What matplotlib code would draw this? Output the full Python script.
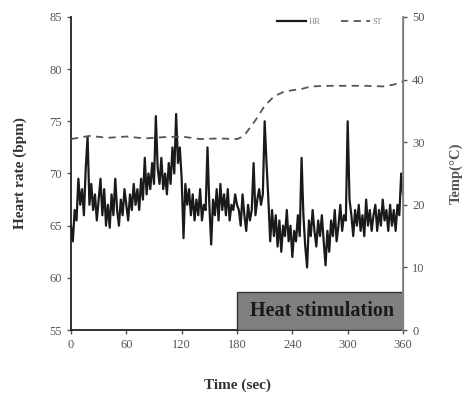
import matplotlib
matplotlib.use("Agg")
import matplotlib.pyplot as plt
from matplotlib.patches import Rectangle

# ── data ────────────────────────────────────────────────────────────────────
hr_time = list(range(0, 361, 2))
hr_bpm = [
    65.0, 63.5, 66.5, 65.5, 69.5, 67.0, 68.5, 66.0, 70.5, 73.5,
    67.0, 69.0, 66.5, 68.0, 65.5, 67.5, 69.5, 66.0, 68.5, 65.0,
    67.0, 64.8, 68.0, 66.0, 69.5, 66.5, 65.0, 67.5, 66.0, 68.5,
    67.0, 65.5, 68.0, 66.5, 69.0, 67.0, 68.5, 66.5, 69.5, 67.5,
    71.5, 68.0, 70.0, 68.5, 71.0, 69.0, 75.5, 70.5, 69.0, 71.5,
    68.5, 70.0, 68.0, 71.0, 69.0, 72.5, 70.0, 75.7, 71.0, 72.5,
    69.5, 63.8, 69.0, 67.0, 68.5, 66.0, 68.0, 65.5, 67.5, 66.0,
    68.5, 65.5, 67.0, 66.5, 72.5, 67.0, 63.2, 67.5, 66.0, 68.5,
    65.5, 69.0, 66.5, 68.0, 66.0, 68.5, 65.5, 67.0, 66.5, 68.0,
    67.0, 66.5, 65.0, 68.0, 66.0, 64.5, 67.0, 65.5, 66.5, 71.0,
    66.0, 67.5, 68.5, 67.0, 68.0, 75.0, 71.0, 67.5, 63.5, 66.5,
    64.0, 66.0, 63.0, 65.5, 62.5, 65.0, 64.0, 66.5, 63.5, 65.0,
    62.0, 64.5, 63.5, 66.0, 64.0, 71.5, 66.0, 63.0, 61.0, 65.5,
    64.0, 66.5, 64.5, 63.0, 65.5, 64.0, 66.0, 63.5, 61.2, 64.5,
    62.5, 65.5, 64.0, 66.5, 63.5, 65.0, 67.0, 64.5, 66.0, 65.5,
    75.0, 67.5, 66.0, 64.0, 66.5, 65.0, 67.0, 64.5, 66.0, 64.0,
    67.5, 65.0, 66.5, 64.5, 66.0, 67.0, 64.5, 66.5, 65.0, 67.5,
    65.5, 66.5, 64.5, 67.0, 65.0, 66.5, 64.5, 67.0, 66.0, 70.0,
    68.0,
]

st_time = [0, 20, 40, 60, 80, 100, 120, 140, 160, 180, 185, 190, 200, 210,
           220, 230, 240, 250, 260, 280, 300, 320, 340, 350, 360]
st_temp = [30.5, 31.0, 30.7, 30.9, 30.6, 30.8, 30.9, 30.5, 30.6, 30.5, 30.8,
           31.5, 33.5, 35.8, 37.3, 38.0, 38.3, 38.5, 38.9, 39.0, 39.0, 39.0,
           38.9, 39.2, 39.7]

hr_ticks = [55, 60, 65, 70, 75, 80, 85]
temp_ticks = [0, 10, 20, 30, 40, 50]
time_ticks = [0, 60, 120, 180, 240, 300, 360]

stim_start, stim_end, stim_height = 180, 360, 6

# ── figure ─────────────────────────────────────────────────────────────────
plt.rcParams["font.family"] = ["Liberation Serif", "DejaVu Serif"]

fig = plt.figure(figsize=(4.67, 4.03), dpi=100)
ax = fig.add_axes([0.152, 0.181, 0.711, 0.777])
ax2 = ax.twinx()

ax2.add_patch(Rectangle((stim_start, 0), stim_end - stim_start, stim_height,
                        facecolor="#7f7f7f", edgecolor="#333333", lw=1.0, zorder=1))
ax2.text((stim_start + stim_end) / 2 + 2, stim_height / 2, "Heat stimulation",
         ha="center", va="center", fontsize=14.5, fontweight="bold",
         color="#1a1a1a", zorder=2)

l1, = ax.plot(hr_time, hr_bpm, color="#1a1a1a", lw=1.6, label="HR", zorder=3)
l2, = ax2.plot(st_time, st_temp, color="#555555", lw=1.3, ls=(0, (4, 3)),
               label="ST", zorder=3)

ax.set_xlim(0, 360)
ax.set_ylim(55, 85)
ax2.set_ylim(0, 50)
ax.set_xticks(time_ticks)
ax.set_yticks(hr_ticks)
ax2.set_yticks(temp_ticks)

for a in (ax, ax2):
    a.spines["top"].set_visible(False)
    a.tick_params(labelsize=9, colors="#555555", length=3, width=1)
ax.spines["left"].set_color("#222222")
ax.spines["bottom"].set_color("#222222")
ax.spines["left"].set_linewidth(1.3)
ax.spines["bottom"].set_linewidth(1.3)
ax2.spines["right"].set_color("#888888")
ax2.spines["right"].set_linewidth(1.3)
ax2.spines["left"].set_visible(False)
ax2.spines["bottom"].set_visible(False)

ax.set_xlabel("Time (sec)", fontsize=11, fontweight="bold", color="#333333",
              labelpad=20)
ax.set_ylabel("Heart rate (bpm)", fontsize=11, fontweight="bold",
              color="#333333", labelpad=16)
ax2.set_ylabel("Temp(\u00b0C)", fontsize=10.5, fontweight="bold",
               color="#555555", rotation=90, labelpad=18)

leg = ax.legend(handles=[l1, l2], loc="upper right", ncol=2, frameon=False,
                fontsize=6, bbox_to_anchor=(0.96, 1.02), handlelength=3.5,
                columnspacing=2.5, handletextpad=0.3)
for t in leg.get_texts():
    t.set_color("#888888")

fig.savefig("out.png", dpi=100)
